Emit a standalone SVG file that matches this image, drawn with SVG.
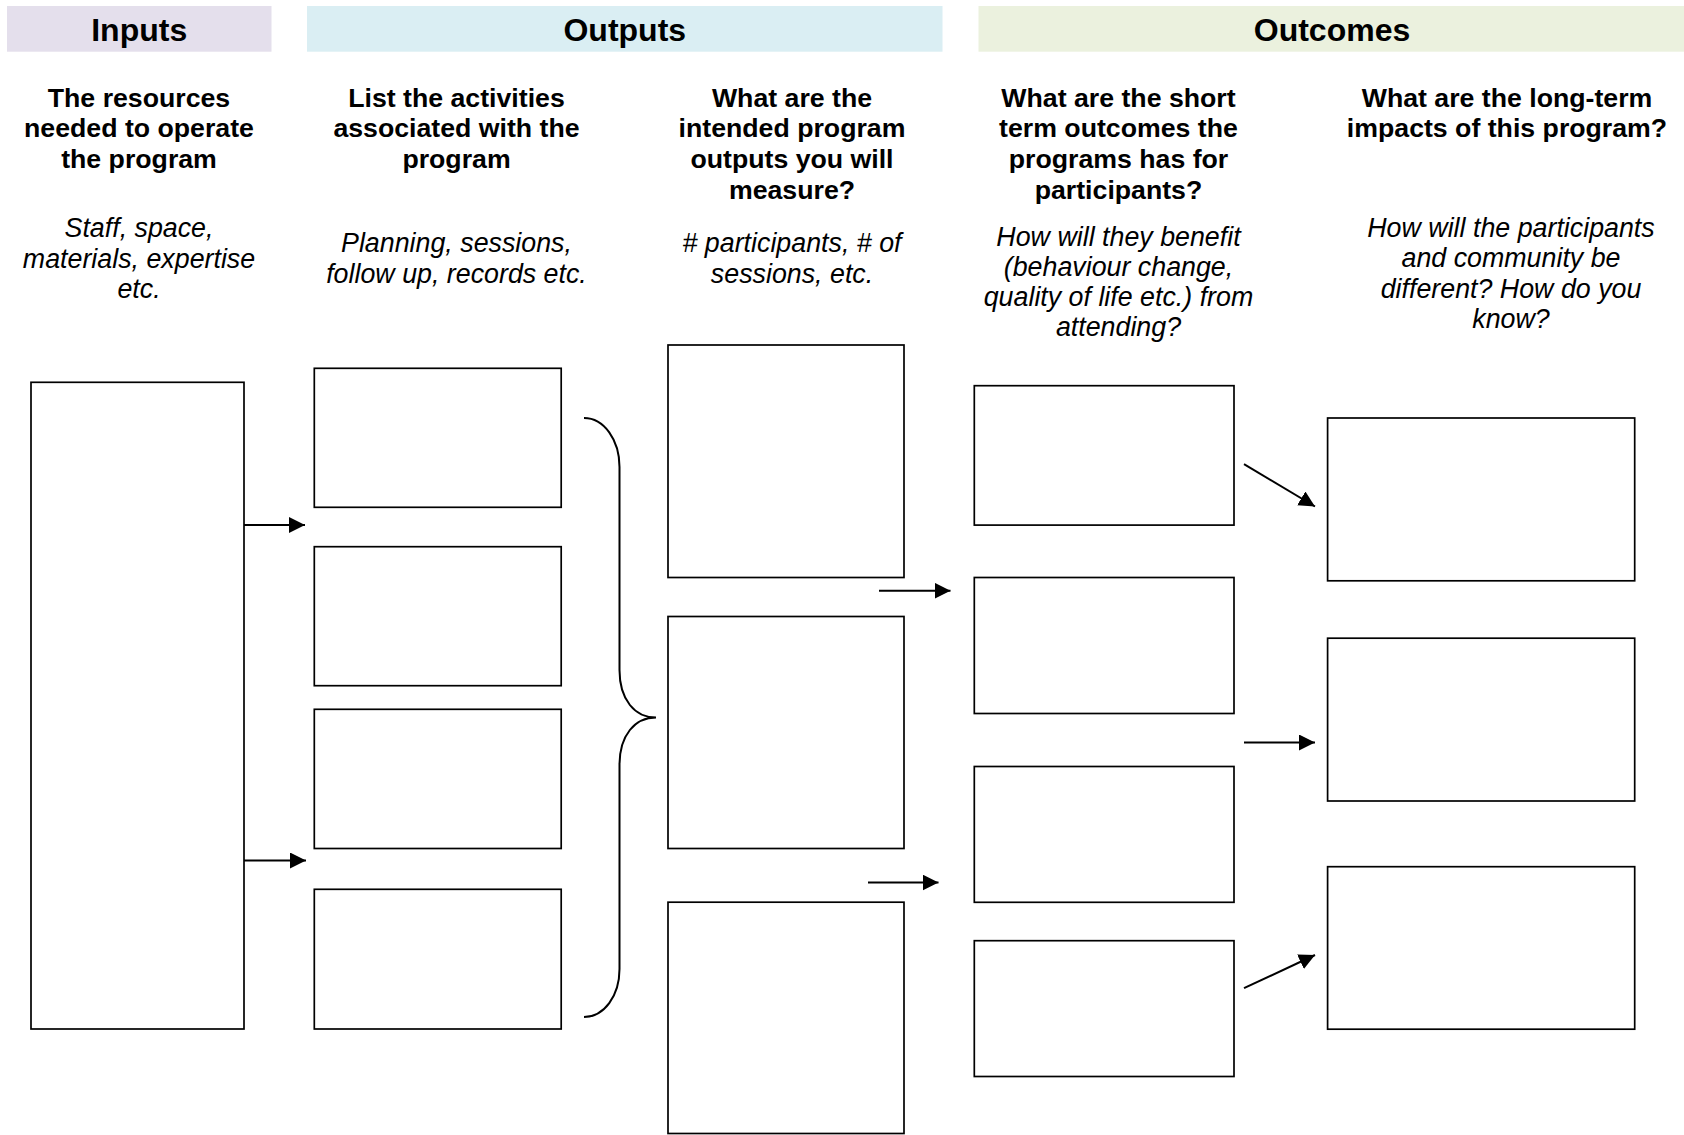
<svg xmlns="http://www.w3.org/2000/svg" width="1684" height="1135" viewBox="0 0 1684 1135">
<style>
  .bg { fill: #ffffff; }
  .hdr { font-family: "Liberation Sans", Arial, sans-serif; font-weight: bold; font-size: 32px; fill: #000; text-anchor: middle; }
  .q { font-family: "Liberation Sans", Arial, sans-serif; font-weight: bold; font-size: 26.7px; fill: #000; text-anchor: middle; }
  .ex { font-family: "Liberation Sans", Arial, sans-serif; font-style: italic; font-size: 26.8px; fill: #000; text-anchor: middle; }
  .box { fill: #ffffff; stroke: #000; stroke-width: 1.7; }
  .arrow { fill: none; stroke: #000; stroke-width: 2; marker-end: url(#ah); }
  .brace { fill: none; stroke: #000; stroke-width: 2; }
</style>
<defs>
  <marker id="ah" markerUnits="userSpaceOnUse" markerWidth="17" markerHeight="17" refX="16" refY="8" orient="auto">
    <path d="M0,0 L16,8 L0,16 Z" fill="#000"/>
  </marker>
</defs>
<rect class="bg" x="0" y="0" width="1684" height="1135"/>

<g id="header-inputs">
  <rect x="7" y="6" width="264.5" height="45.7" fill="#E4DFEC"/>
  <text class="hdr" x="139.2" y="41">Inputs</text>
</g>
<g id="header-outputs">
  <rect x="307" y="6" width="635.5" height="45.7" fill="#DAEEF3"/>
  <text class="hdr" x="624.8" y="41">Outputs</text>
</g>
<g id="header-outcomes">
  <rect x="978.5" y="6" width="705.5" height="45.7" fill="#EBF1DE"/>
  <text class="hdr" x="1332" y="41">Outcomes</text>
</g>

<g id="col-inputs-text">
  <text class="q" x="139" y="106.5">The resources</text>
  <text class="q" x="139" y="137.4">needed to operate</text>
  <text class="q" x="139" y="168.3">the program</text>
  <text class="ex" x="139" y="237">Staff, space,</text>
  <text class="ex" x="139" y="267.5">materials, expertise</text>
  <text class="ex" x="139" y="298">etc.</text>
</g>
<g id="col-activities-text">
  <text class="q" x="456.5" y="106.5">List the activities</text>
  <text class="q" x="456.5" y="137.4">associated with the</text>
  <text class="q" x="456.5" y="168.3">program</text>
  <text class="ex" x="456.5" y="252">Planning, sessions,</text>
  <text class="ex" x="456.5" y="282.5">follow up, records etc.</text>
</g>
<g id="col-outputs-text">
  <text class="q" x="792" y="106.5">What are the</text>
  <text class="q" x="792" y="137.4">intended program</text>
  <text class="q" x="792" y="168.3">outputs you will</text>
  <text class="q" x="792" y="199.2">measure?</text>
  <text class="ex" x="792" y="252"># participants, # of</text>
  <text class="ex" x="792" y="282.5">sessions, etc.</text>
</g>
<g id="col-short-text">
  <text class="q" x="1118.5" y="106.5">What are the short</text>
  <text class="q" x="1118.5" y="137.4">term outcomes the</text>
  <text class="q" x="1118.5" y="168.3">programs has for</text>
  <text class="q" x="1118.5" y="199.2">participants?</text>
  <text class="ex" x="1118.5" y="245.6">How will they benefit</text>
  <text class="ex" x="1118.5" y="275.6">(behaviour change,</text>
  <text class="ex" x="1118.5" y="305.6">quality of life etc.) from</text>
  <text class="ex" x="1118.5" y="335.6">attending?</text>
</g>
<g id="col-long-text">
  <text class="q" x="1507" y="106.5">What are the long-term</text>
  <text class="q" x="1507" y="137.4">impacts of this program?</text>
  <text class="ex" x="1511" y="236.5">How will the participants</text>
  <text class="ex" x="1511" y="267">and community be</text>
  <text class="ex" x="1511" y="297.5">different? How do you</text>
  <text class="ex" x="1511" y="328">know?</text>
</g>

<g id="input-box"><rect class="box" x="31" y="382.3" width="213" height="646.7"/></g>

<g id="activity-1"><rect class="box" x="314.3" y="368.3" width="246.9" height="139"/></g>
<g id="activity-2"><rect class="box" x="314.3" y="546.7" width="246.9" height="139"/></g>
<g id="activity-3"><rect class="box" x="314.3" y="709.3" width="246.9" height="139.2"/></g>
<g id="activity-4"><rect class="box" x="314.3" y="889.3" width="246.9" height="139.7"/></g>

<g id="output-1"><rect class="box" x="668" y="345" width="236" height="232.5"/></g>
<g id="output-2"><rect class="box" x="668" y="616.5" width="236" height="232"/></g>
<g id="output-3"><rect class="box" x="668" y="902.2" width="236" height="231.3"/></g>

<g id="short-1"><rect class="box" x="974.3" y="385.7" width="259.7" height="139.4"/></g>
<g id="short-2"><rect class="box" x="974.3" y="577.5" width="259.7" height="136"/></g>
<g id="short-3"><rect class="box" x="974.3" y="766.5" width="259.7" height="135.8"/></g>
<g id="short-4"><rect class="box" x="974.3" y="940.7" width="259.7" height="135.8"/></g>

<g id="long-1"><rect class="box" x="1327.6" y="418" width="307.1" height="162.8"/></g>
<g id="long-2"><rect class="box" x="1327.6" y="638.2" width="307.1" height="162.8"/></g>
<g id="long-3"><rect class="box" x="1327.6" y="866.7" width="307.1" height="162.5"/></g>

<g id="connectors">
  <line class="arrow" x1="244" y1="525" x2="305" y2="525"/>
  <line class="arrow" x1="244" y1="860.5" x2="306" y2="860.5"/>
  <path class="brace" d="M584,418 C604,418 619.5,440 619.5,467 L619.5,670 C619.5,700 635,717.5 656,717.5 C635,717.5 619.5,735 619.5,765 L619.5,969 C619.5,996 604,1017 584,1017"/>
  <line class="arrow" x1="879" y1="590.7" x2="950.5" y2="590.7"/>
  <line class="arrow" x1="868" y1="882.5" x2="938.5" y2="882.5"/>
  <line class="arrow" x1="1244" y1="464.2" x2="1315" y2="506.5"/>
  <line class="arrow" x1="1244" y1="742.5" x2="1315" y2="742.5"/>
  <line class="arrow" x1="1244" y1="988.2" x2="1315" y2="955"/>
</g>
</svg>
